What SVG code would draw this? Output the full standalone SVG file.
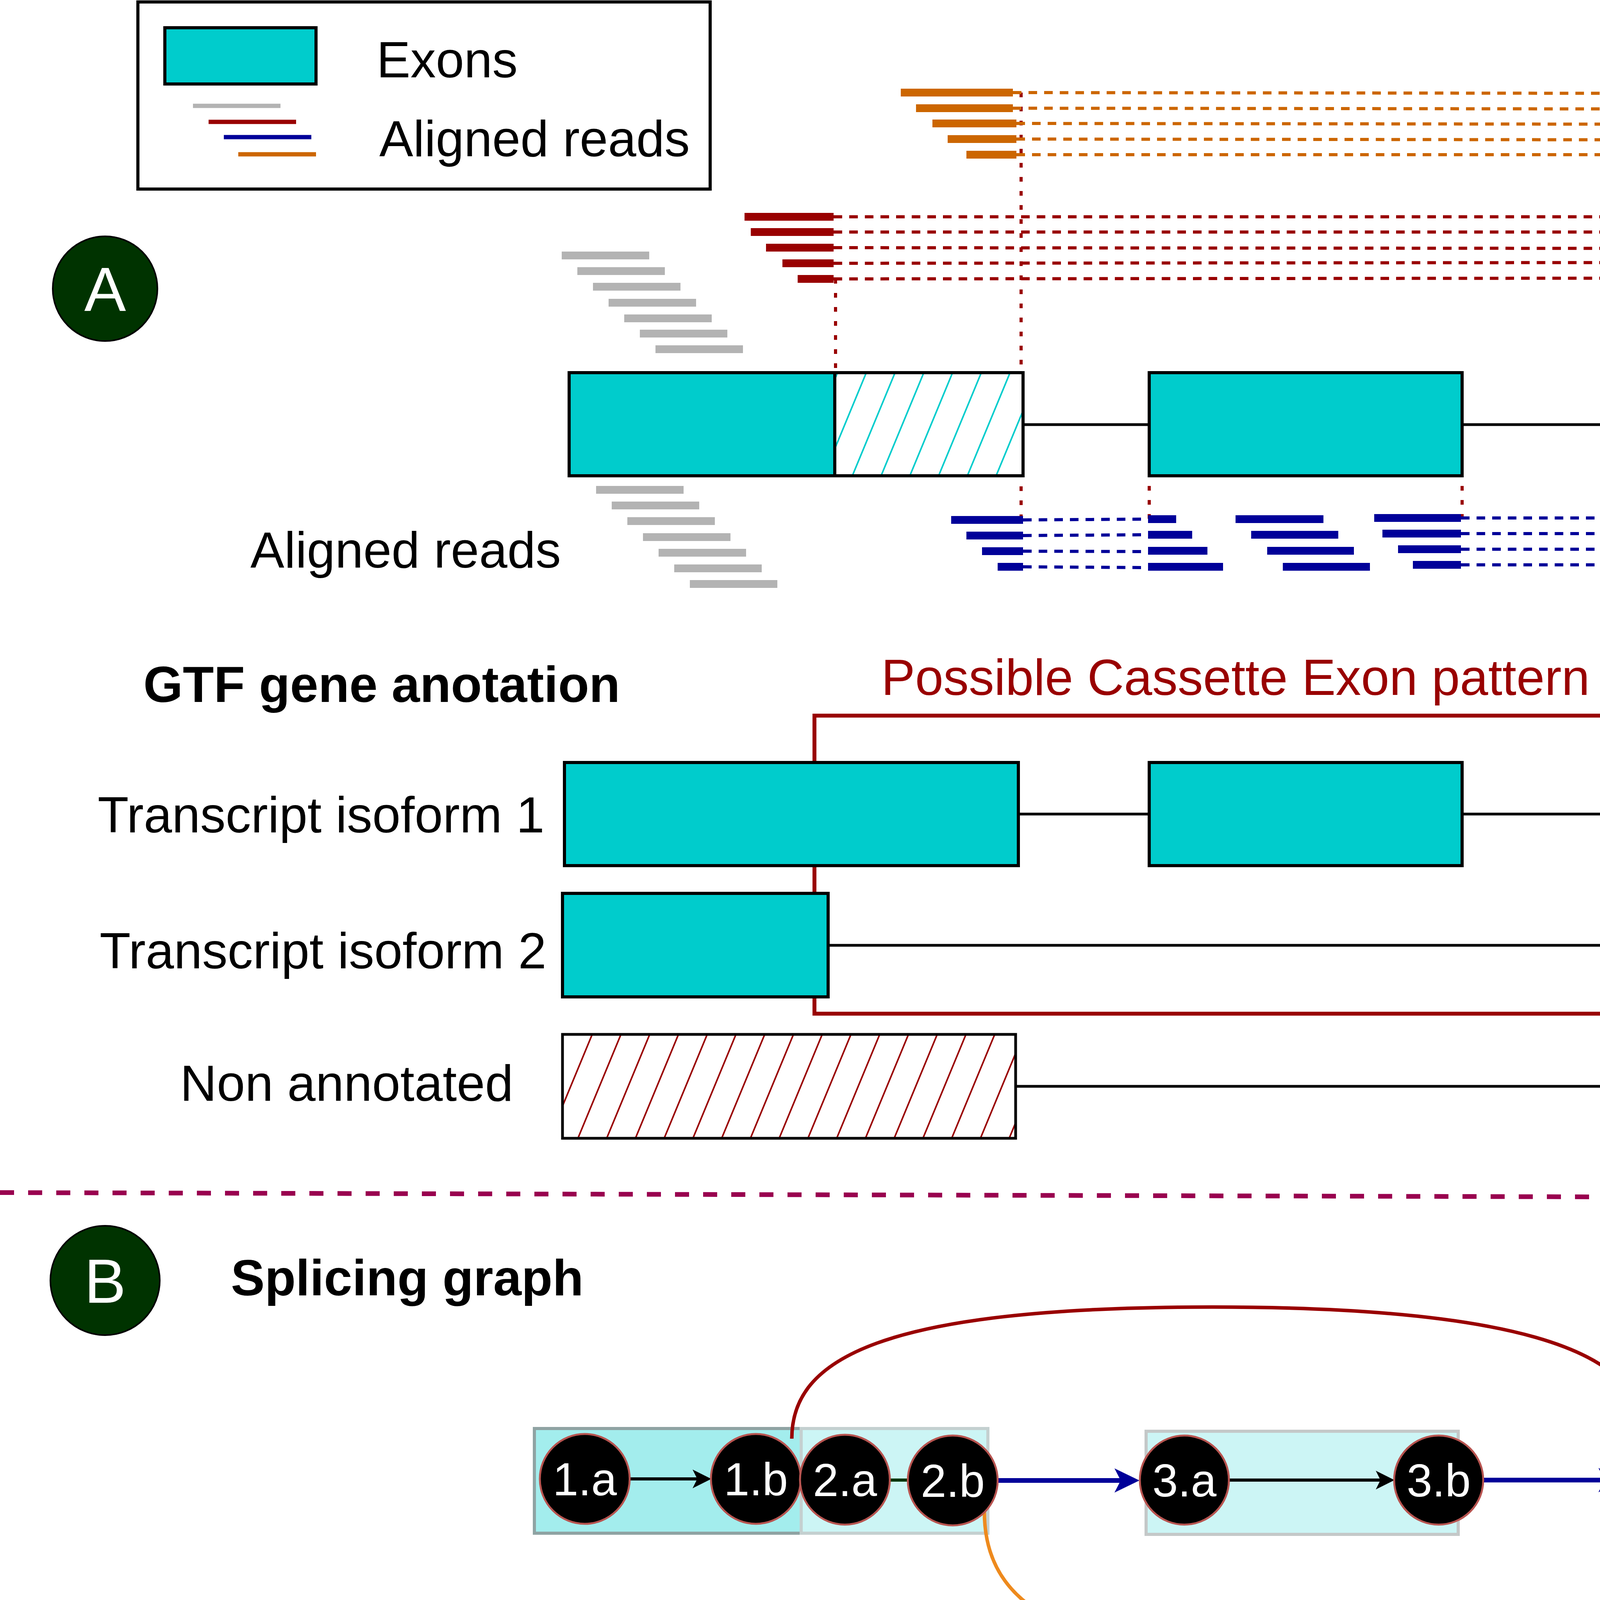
<svg xmlns="http://www.w3.org/2000/svg" width="5228" height="6304" viewBox="0 0 5228 6304">
<style>
text{font-family:"Liberation Sans",Arial,sans-serif;}
.t130{font-size:130px;}
.bold{font-weight:bold;}
.lbl{font-size:160px;fill:#fff;text-anchor:middle;}
.nl{font-size:118px;fill:#fff;text-anchor:middle;}
.sub{font-size:100px;}
.exon{fill:#00CCCC;stroke:#000;stroke-width:8;}
.intron{stroke:#000;stroke-width:7;fill:none;}
.gray{stroke:#B3B3B3;stroke-width:20;}
.or{stroke:#CC6600;stroke-width:20;}
.rd{stroke:#990000;stroke-width:20;}
.bl{stroke:#000099;stroke-width:20;}
.ordash{stroke:#CC6600;stroke-width:8;stroke-dasharray:22 18;}
.rddash{stroke:#990000;stroke-width:8;stroke-dasharray:22 18;}
.bldash{stroke:#000099;stroke-width:8;stroke-dasharray:22 18;}
.vdot{stroke:#990000;stroke-width:8;stroke-dasharray:12 24;}
.sep{stroke:#99004F;stroke-width:12;stroke-dasharray:36 36;fill:none;}
.bn{fill:#000;stroke:#B85450;stroke-width:5;}
.pn{fill:#4C0099;stroke:#000;stroke-width:5;}
.teal{stroke:#67AB9F;stroke-width:11;stroke-dasharray:11 11;}
.blk{stroke:#000;stroke-width:8;}
.tbl{stroke-width:5;}
</style>
<defs>
<pattern id="hatchC" patternUnits="userSpaceOnUse" width="68" height="68" patternTransform="rotate(22.5)">
<rect width="68" height="68" fill="#fff"/>
<line x1="34" y1="-5" x2="34" y2="73" stroke="#00CCCC" stroke-width="4"/>
</pattern>
<pattern id="hatchR" patternUnits="userSpaceOnUse" width="68" height="68" patternTransform="rotate(22.5)">
<rect width="68" height="68" fill="#fff"/>
<line x1="34" y1="-5" x2="34" y2="73" stroke="#990000" stroke-width="4"/>
</pattern>
<marker id="arBlk" markerUnits="userSpaceOnUse" markerWidth="50" markerHeight="50" refX="22" refY="24" orient="auto">
<path d="M0,0 L48,24 L0,48 L12,24 Z" fill="#000"/>
</marker>
<marker id="arBlu" markerUnits="userSpaceOnUse" markerWidth="66" markerHeight="64" refX="34" refY="31" orient="auto">
<path d="M0,0 L64,31 L0,62 L16,31 Z" fill="#000099"/>
</marker>
<marker id="arRed" markerUnits="userSpaceOnUse" markerWidth="62" markerHeight="62" refX="30" refY="30" orient="auto">
<path d="M0,0 L60,30 L0,60 L15,30 Z" fill="#990000"/>
</marker>
<marker id="arOr" markerUnits="userSpaceOnUse" markerWidth="62" markerHeight="62" refX="30" refY="30" orient="auto">
<path d="M0,0 L60,30 L0,60 L15,30 Z" fill="#EE8A1D"/>
</marker>
</defs>
<rect width="5228" height="6304" fill="#fff"/>
<g id="legend">
<rect x="353" y="5" width="1465" height="479" fill="#fff" stroke="#000" stroke-width="8"/>
<rect x="422" y="71" width="387" height="144" class="exon"/>
<text x="964" y="198" class="t130">Exons</text>
<line x1="494" y1="271" x2="718" y2="271" stroke="#B3B3B3" stroke-width="11"/>
<line x1="534" y1="312" x2="758" y2="312" stroke="#990000" stroke-width="11"/>
<line x1="573" y1="351" x2="797" y2="351" stroke="#000099" stroke-width="11"/>
<line x1="610" y1="395" x2="809" y2="395" stroke="#CC6600" stroke-width="11"/>
<text x="971" y="400" class="t130">Aligned reads</text>
</g>
<g id="label-A"><circle cx="269" cy="739" r="134" fill="#003300" stroke="#000" stroke-width="4"/><text x="269" y="796" class="lbl">A</text></g>
<g id="label-B"><circle cx="269" cy="3278" r="140" fill="#003300" stroke="#000" stroke-width="4"/><text x="269" y="3335" class="lbl">B</text></g>
<g id="label-C"><circle cx="269" cy="4699" r="140" fill="#003300" stroke="#000" stroke-width="4"/><text x="269" y="4756" class="lbl">C</text></g>
<g id="reads-vertical">
<line x1="2139" y1="714" x2="2139" y2="954" class="vdot"/>
<line x1="2614" y1="237" x2="2614" y2="1330" class="vdot"/>
<line x1="4234" y1="237" x2="4234" y2="1330" class="vdot"/>
<line x1="2942" y1="1100" x2="2942" y2="1330" class="vdot"/>
<line x1="3743" y1="1100" x2="3743" y2="1330" class="vdot"/>
</g>
<g id="reads-orange">
<line x1="2306" y1="237" x2="2593" y2="237" class="or"/>
<line x1="2345" y1="277" x2="2593" y2="277" class="or"/>
<line x1="2387" y1="316" x2="2602" y2="316" class="or"/>
<line x1="2426" y1="356" x2="2602" y2="356" class="or"/>
<line x1="2474" y1="396" x2="2602" y2="396" class="or"/>
<line x1="2593" y1="237" x2="4242" y2="239" class="ordash"/>
<line x1="2593" y1="277" x2="4242" y2="279" class="ordash"/>
<line x1="2602" y1="316" x2="4242" y2="318" class="ordash"/>
<line x1="2602" y1="356" x2="4242" y2="358" class="ordash"/>
<line x1="2602" y1="396" x2="4242" y2="396" class="ordash"/>
<line x1="4242" y1="237" x2="4326" y2="237" class="or"/>
<line x1="4242" y1="277" x2="4367" y2="277" class="or"/>
<line x1="4242" y1="316" x2="4407" y2="316" class="or"/>
<line x1="4242" y1="356" x2="4445" y2="356" class="or"/>
<line x1="4242" y1="396" x2="4462" y2="396" class="or"/>
</g>
<g id="reads-red">
<line x1="1906" y1="555" x2="2134" y2="555" class="rd"/>
<line x1="1922" y1="594" x2="2134" y2="594" class="rd"/>
<line x1="1961" y1="634" x2="2134" y2="634" class="rd"/>
<line x1="2003" y1="674" x2="2134" y2="674" class="rd"/>
<line x1="2042" y1="714" x2="2134" y2="714" class="rd"/>
<line x1="2134" y1="555" x2="4259" y2="555" class="rddash"/>
<line x1="2134" y1="594" x2="4259" y2="594" class="rddash"/>
<line x1="2134" y1="634" x2="4259" y2="636" class="rddash"/>
<line x1="2134" y1="674" x2="4259" y2="672" class="rddash"/>
<line x1="2134" y1="714" x2="4259" y2="712" class="rddash"/>
<line x1="4259" y1="555" x2="4318" y2="555" class="rd"/>
<line x1="4259" y1="594" x2="4358" y2="594" class="rd"/>
<line x1="4259" y1="634" x2="4398" y2="634" class="rd"/>
<line x1="4259" y1="674" x2="4438" y2="674" class="rd"/>
<line x1="4259" y1="714" x2="4479" y2="714" class="rd"/>
</g>
<g id="reads-gray">
<line x1="1438" y1="654" x2="1662" y2="654" class="gray"/>
<line x1="1478" y1="694" x2="1702" y2="694" class="gray"/>
<line x1="1518" y1="734" x2="1742" y2="734" class="gray"/>
<line x1="1558" y1="775" x2="1782" y2="775" class="gray"/>
<line x1="1598" y1="815" x2="1822" y2="815" class="gray"/>
<line x1="1638" y1="854" x2="1862" y2="854" class="gray"/>
<line x1="1678" y1="894" x2="1902" y2="894" class="gray"/>
<line x1="4739" y1="631" x2="4963" y2="631" class="gray"/>
<line x1="4779" y1="671" x2="5003" y2="671" class="gray"/>
<line x1="4819" y1="711" x2="5043" y2="711" class="gray"/>
<line x1="4859" y1="751" x2="5083" y2="751" class="gray"/>
<line x1="4899" y1="791" x2="5123" y2="791" class="gray"/>
<line x1="4939" y1="831" x2="5163" y2="831" class="gray"/>
<line x1="4979" y1="871" x2="5203" y2="871" class="gray"/>
<line x1="1526" y1="1254" x2="1750" y2="1254" class="gray"/>
<line x1="1566" y1="1294" x2="1790" y2="1294" class="gray"/>
<line x1="1606" y1="1334" x2="1830" y2="1334" class="gray"/>
<line x1="1646" y1="1375" x2="1870" y2="1375" class="gray"/>
<line x1="1686" y1="1415" x2="1910" y2="1415" class="gray"/>
<line x1="1726" y1="1455" x2="1950" y2="1455" class="gray"/>
<line x1="1766" y1="1495" x2="1990" y2="1495" class="gray"/>
<line x1="4434" y1="1274" x2="4658" y2="1274" class="gray"/>
<line x1="4474" y1="1314" x2="4698" y2="1314" class="gray"/>
<line x1="4514" y1="1354" x2="4738" y2="1354" class="gray"/>
<line x1="4554" y1="1394" x2="4778" y2="1394" class="gray"/>
<line x1="4594" y1="1434" x2="4818" y2="1434" class="gray"/>
<line x1="4634" y1="1474" x2="4858" y2="1474" class="gray"/>
<line x1="4674" y1="1514" x2="4898" y2="1514" class="gray"/>
</g>
<g id="reads-blue">
<line x1="2435" y1="1331" x2="2619" y2="1331" class="bl"/>
<line x1="2474" y1="1371" x2="2619" y2="1371" class="bl"/>
<line x1="2514" y1="1411" x2="2619" y2="1411" class="bl"/>
<line x1="2554" y1="1451" x2="2619" y2="1451" class="bl"/>
<line x1="2619" y1="1331" x2="2939" y2="1329" class="bldash"/>
<line x1="2619" y1="1371" x2="2939" y2="1369" class="bldash"/>
<line x1="2619" y1="1411" x2="2939" y2="1412" class="bldash"/>
<line x1="2619" y1="1451" x2="2939" y2="1453" class="bldash"/>
<line x1="2939" y1="1329" x2="3011" y2="1329" class="bl"/>
<line x1="2939" y1="1369" x2="3052" y2="1369" class="bl"/>
<line x1="2939" y1="1410" x2="3091" y2="1410" class="bl"/>
<line x1="2939" y1="1451" x2="3131" y2="1451" class="bl"/>
<line x1="3163" y1="1329" x2="3388" y2="1329" class="bl"/>
<line x1="3203" y1="1369" x2="3426" y2="1369" class="bl"/>
<line x1="3244" y1="1410" x2="3466" y2="1410" class="bl"/>
<line x1="3284" y1="1451" x2="3507" y2="1451" class="bl"/>
<line x1="3518" y1="1326" x2="3740" y2="1326" class="bl"/>
<line x1="3539" y1="1366" x2="3740" y2="1366" class="bl"/>
<line x1="3579" y1="1406" x2="3740" y2="1406" class="bl"/>
<line x1="3617" y1="1446" x2="3740" y2="1446" class="bl"/>
<line x1="3740" y1="1326" x2="4227" y2="1326" class="bldash"/>
<line x1="3740" y1="1366" x2="4227" y2="1366" class="bldash"/>
<line x1="3740" y1="1406" x2="4227" y2="1406" class="bldash"/>
<line x1="3740" y1="1446" x2="4227" y2="1446" class="bldash"/>
<line x1="4227" y1="1326" x2="4340" y2="1326" class="bl"/>
<line x1="4227" y1="1366" x2="4383" y2="1366" class="bl"/>
<line x1="4227" y1="1406" x2="4424" y2="1406" class="bl"/>
<line x1="4227" y1="1446" x2="4450" y2="1446" class="bl"/>
</g>
<g id="exons-A">
<line x1="2619" y1="1087" x2="2942" y2="1087" class="intron"/>
<line x1="3743" y1="1087" x2="4236" y2="1087" class="intron"/>
<rect x="1457" y="954" width="680" height="264" class="exon"/>
<rect x="2137" y="954" width="482" height="264" fill="url(#hatchC)" stroke="#000" stroke-width="8"/>
<rect x="2942" y="954" width="801" height="264" class="exon"/>
<rect x="4236" y="954" width="801" height="264" class="exon"/>
</g>
<text x="641" y="1453" class="t130">Aligned reads</text>
<text x="367" y="1797" class="t130 bold">GTF gene anotation</text>
<text x="2256" y="1779" class="t130" fill="#990000">Possible Cassette Exon pattern</text>
<g id="gtf">
<rect x="2085" y="1832" width="2178" height="763" fill="none" stroke="#990000" stroke-width="10"/>
<line x1="2607" y1="2084" x2="2942" y2="2084" class="intron"/>
<line x1="3743" y1="2084" x2="4216" y2="2084" class="intron"/>
<line x1="2120" y1="2420" x2="4216" y2="2420" class="intron"/>
<line x1="2600" y1="2781" x2="4214" y2="2781" class="intron"/>
<rect x="1445" y="1952" width="1162" height="264" class="exon"/>
<rect x="2942" y="1952" width="801" height="264" class="exon"/>
<rect x="4216" y="1952" width="799" height="264" class="exon"/>
<rect x="1440" y="2287" width="680" height="265" class="exon"/>
<rect x="4216" y="2287" width="799" height="265" class="exon"/>
<rect x="1440" y="2648" width="1160" height="266" fill="url(#hatchR)" stroke="#000" stroke-width="7"/>
<rect x="4214" y="2648" width="798" height="266" fill="url(#hatchR)" stroke="#000" stroke-width="7"/>
</g>
<text x="250" y="2131" class="t130">Transcript isoform 1</text>
<text x="255" y="2479" class="t130">Transcript isoform 2</text>
<text x="461" y="2818" class="t130">Non annotated</text>
<line x1="0" y1="3053" x2="5228" y2="3067" class="sep"/>
<line x1="0" y1="4360" x2="5228" y2="4374" class="sep"/>
<text x="591" y="3316" class="t130 bold">Splicing graph</text>
<g id="b-boxes">
<rect x="1368" y="3657" width="683" height="268" fill="#A3EDED" stroke="#8FA3A3" stroke-width="8"/>
<rect x="2051" y="3657" width="478" height="268" fill="#CCF5F5" stroke="#C4D0D0" stroke-width="8"/>
<rect x="2934" y="3664" width="799" height="264" fill="#CCF5F5" stroke="#C4C8C8" stroke-width="8"/>
<rect x="4157" y="3662" width="801" height="266" fill="#CCF5F5" stroke="#C4C8C8" stroke-width="8"/>
</g>
<g id="b-connectors">
<line x1="1612" y1="3786" x2="1795" y2="3786" class="blk" marker-end="url(#arBlk)"/>
<line x1="2276" y1="3789" x2="2326" y2="3789" stroke="#003300" stroke-width="8"/>
<line x1="2554" y1="3790" x2="2887" y2="3790" stroke="#000099" stroke-width="12" marker-end="url(#arBlu)"/>
<line x1="3145" y1="3789" x2="3544" y2="3789" class="blk" marker-end="url(#arBlk)"/>
<line x1="3796" y1="3789" x2="4126" y2="3789" stroke="#000099" stroke-width="12" marker-end="url(#arBlu)"/>
<line x1="4384" y1="3789" x2="4760" y2="3794" class="blk" marker-end="url(#arBlk)"/>
<path d="M2027 3683 C2027 3480 2250 3346 3103 3346 C3850 3346 4200 3450 4203 3657" fill="none" stroke="#990000" stroke-width="9" marker-end="url(#arRed)"/>
<path d="M2520 3870 C2520 4150 2800 4245 3360 4245 C3950 4245 4188 4150 4190 3902" fill="none" stroke="#EE8A1D" stroke-width="9" marker-end="url(#arOr)"/>
</g>
<g id="b-1a"><circle cx="1497" cy="3786" r="115" class="bn"/><text x="1497" y="3828" class="nl">1.a</text></g>
<g id="b-1b"><circle cx="1935" cy="3786" r="115" class="bn"/><text x="1935" y="3828" class="nl">1.b</text></g>
<g id="b-2a"><circle cx="2163" cy="3788" r="115" class="bn"/><text x="2163" y="3830" class="nl">2.a</text></g>
<g id="b-2b"><circle cx="2439" cy="3790" r="115" class="bn"/><text x="2439" y="3832" class="nl">2.b</text></g>
<g id="b-3a"><circle cx="3032" cy="3789" r="114" class="bn"/><text x="3032" y="3831" class="nl">3.a</text></g>
<g id="b-3b"><circle cx="3683" cy="3789" r="114" class="bn"/><text x="3683" y="3831" class="nl">3.b</text></g>
<g id="b-4a"><circle cx="4271" cy="3790" r="114" class="bn"/><text x="4271" y="3832" class="nl">4.a</text></g>
<g id="b-4b"><circle cx="4900" cy="3794" r="114" class="bn"/><text x="4900" y="3836" class="nl">4.b</text></g>
<text x="646" y="4742" class="t130 bold">Event definition EventPointer</text>
<g id="c-connectors">
<line x1="849" y1="4975" x2="986" y2="4975" class="teal"/>
<line x1="1198" y1="4975" x2="1258" y2="4975" class="blk"/>
<line x1="1470" y1="4975" x2="1530" y2="4975" class="blk"/>
<line x1="1742" y1="4975" x2="1817" y2="4975" class="blk"/>
<line x1="2029" y1="4975" x2="2145" y2="4975" class="teal"/>
<line x1="857" y1="5251" x2="986" y2="5251" class="teal"/>
<line x1="1198" y1="5251" x2="1258" y2="5251" stroke="#990000" stroke-width="9"/>
<line x1="1470" y1="5251" x2="1544" y2="5251" class="teal"/>
<line x1="864" y1="5555" x2="979" y2="5555" class="teal"/>
<line x1="1191" y1="5555" x2="1272" y2="5555" stroke="#000099" stroke-width="8"/>
<line x1="1484" y1="5555" x2="1551" y2="5555" class="blk"/>
<line x1="857" y1="5894" x2="979" y2="5894" class="teal"/>
<line x1="1191" y1="5894" x2="1254" y2="5894" class="blk"/>
<line x1="1466" y1="5894" x2="1552" y2="5894" class="teal"/>
<line x1="857" y1="6168" x2="974" y2="6168" class="teal"/>
<line x1="1186" y1="6168" x2="1266" y2="6168" class="blk"/>
<line x1="1478" y1="6168" x2="1561" y2="6168" class="teal"/>
<line x1="134" y1="5733" x2="2673" y2="5740" stroke="#000" stroke-width="10" stroke-dasharray="10 48"/>
</g>
<text x="229" y="5006" class="t130" fill="#000099">Path<tspan class="sub" dy="30">1</tspan></text>
<text x="229" y="5288" class="t130" fill="#990000">Path<tspan class="sub" dy="30">2</tspan></text>
<text x="239" y="5572" class="t130" fill="#EF8B1F">Path<tspan class="sub" dy="30">3</tspan></text>
<text x="212" y="5938" class="t130">Ref<tspan class="sub" dy="30" fill="#000099">12</tspan></text>
<text x="226" y="6211" class="t130">Ref<tspan class="sub" dy="30" fill="#000099">1</tspan><tspan class="sub" fill="#990000">3</tspan></text>
<g id="c-r1-S"><circle cx="744" cy="4975" r="106" class="pn"/><text x="744" y="5017" class="nl">S</text></g>
<g id="c-r1-2b"><circle cx="1092" cy="4975" r="106" class="bn"/><text x="1092" y="5017" class="nl">2.b</text></g>
<g id="c-r1-3a"><circle cx="1364" cy="4975" r="106" class="bn"/><text x="1364" y="5017" class="nl">3.a</text></g>
<g id="c-r1-3b"><circle cx="1636" cy="4975" r="106" class="bn"/><text x="1636" y="5017" class="nl">3.b</text></g>
<g id="c-r1-4a"><circle cx="1923" cy="4975" r="106" class="bn"/><text x="1923" y="5017" class="nl">4.a</text></g>
<g id="c-r1-E"><circle cx="2251" cy="4975" r="106" class="pn"/><text x="2251" y="5017" class="nl">E</text></g>
<g id="c-r2-S"><circle cx="752" cy="5251" r="106" class="pn"/><text x="752" y="5293" class="nl">S</text></g>
<g id="c-r2-2b"><circle cx="1092" cy="5251" r="106" class="bn"/><text x="1092" y="5293" class="nl">2.b</text></g>
<g id="c-r2-4a"><circle cx="1364" cy="5251" r="106" class="bn"/><text x="1364" y="5293" class="nl">4.a</text></g>
<g id="c-r2-E"><circle cx="1650" cy="5251" r="106" class="pn"/><text x="1650" y="5293" class="nl">E</text></g>
<g id="c-r3-S"><circle cx="759" cy="5555" r="106" class="pn"/><text x="759" y="5597" class="nl">S</text></g>
<g id="c-r3-1b"><circle cx="1085" cy="5555" r="106" class="bn"/><text x="1085" y="5597" class="nl">1.b</text></g>
<g id="c-r3-4a"><circle cx="1378" cy="5555" r="106" class="bn"/><text x="1378" y="5597" class="nl">4.a</text></g>
<g id="c-r3-E"><circle cx="1657" cy="5555" r="106" class="pn"/><text x="1657" y="5597" class="nl">E</text></g>
<g id="c-r4-S"><circle cx="752" cy="5894" r="106" class="pn"/><text x="752" y="5936" class="nl">S</text></g>
<g id="c-r4-2a"><circle cx="1085" cy="5894" r="106" class="bn"/><text x="1085" y="5936" class="nl">2.a</text></g>
<g id="c-r4-2b"><circle cx="1360" cy="5894" r="106" class="bn"/><text x="1360" y="5936" class="nl">2.b</text></g>
<g id="c-r4-E"><circle cx="1658" cy="5894" r="106" class="pn"/><text x="1658" y="5936" class="nl">E</text></g>
<g id="c-r5-S"><circle cx="752" cy="6168" r="106" class="pn"/><text x="752" y="6210" class="nl">S</text></g>
<g id="c-r5-1a"><circle cx="1080" cy="6168" r="106" class="bn"/><text x="1080" y="6210" class="nl">1.a</text></g>
<g id="c-r5-1b"><circle cx="1372" cy="6168" r="106" class="bn"/><text x="1372" y="6210" class="nl">1.b</text></g>
<g id="c-r5-E"><circle cx="1667" cy="6168" r="106" class="pn"/><text x="1667" y="6210" class="nl">E</text></g>
<g id="table">
<rect x="2680" y="4763" width="976" height="699" fill="#F5F5F5" stroke="#666" class="tbl"/>
<rect x="2680" y="5462" width="976" height="699" fill="#F5F5F5" stroke="#666" class="tbl"/>
<rect x="3656" y="4763" width="1000" height="699" fill="#fff" stroke="#000" class="tbl"/>
<rect x="3656" y="5462" width="1000" height="699" fill="#fff" stroke="#000" class="tbl"/>
<rect x="4656" y="4763" width="545" height="699" fill="#D5E8D4" stroke="#82B366" class="tbl"/>
<rect x="4656" y="5462" width="545" height="699" fill="#E1D5E7" stroke="#9673A6" class="tbl"/>
<text x="3168" y="4964" class="t130" text-anchor="middle"><tspan fill="#333">Path A: </tspan><tspan fill="#000099">Path</tspan><tspan fill="#000099" class="sub" dy="30">1</tspan></text>
<text x="3168" y="5147" class="t130" text-anchor="middle"><tspan fill="#333">Path B: </tspan><tspan fill="#990000">Path</tspan><tspan fill="#990000" class="sub" dy="30">2</tspan></text>
<text x="3168" y="5324" class="t130" text-anchor="middle"><tspan fill="#333">Path</tspan><tspan fill="#333" class="sub" dy="30">Ref</tspan><tspan fill="#333" dy="-30">: </tspan><tspan fill="#000">Ref</tspan><tspan fill="#000099" class="sub" dy="30">12</tspan></text>
<text x="3168" y="5659" class="t130" text-anchor="middle"><tspan fill="#333">Path A: </tspan><tspan fill="#000099">Path</tspan><tspan fill="#000099" class="sub" dy="30">1</tspan></text>
<text x="3168" y="5841" class="t130" text-anchor="middle"><tspan fill="#333">Path B: </tspan><tspan fill="#CC6600">Path</tspan><tspan fill="#CC6600" class="sub" dy="30">3</tspan></text>
<text x="3168" y="6020" class="t130" text-anchor="middle"><tspan fill="#333">Path</tspan><tspan fill="#333" class="sub" dy="30">Ref</tspan><tspan fill="#333" dy="-30">: </tspan><tspan fill="#000">Ref</tspan><tspan fill="#000099" class="sub" dy="30">1</tspan><tspan fill="#990000" class="sub">3</tspan></text>
<text x="4156" y="5155" class="t130" text-anchor="middle">Complex Event</text>
<text x="4156" y="5851" class="t130" text-anchor="middle">Cassette Exon</text>
<text x="4928" y="5155" class="t130" text-anchor="middle">EPST</text>
<text x="4928" y="5851" class="t130" text-anchor="middle">EPBAM</text>
</g>
</svg>
